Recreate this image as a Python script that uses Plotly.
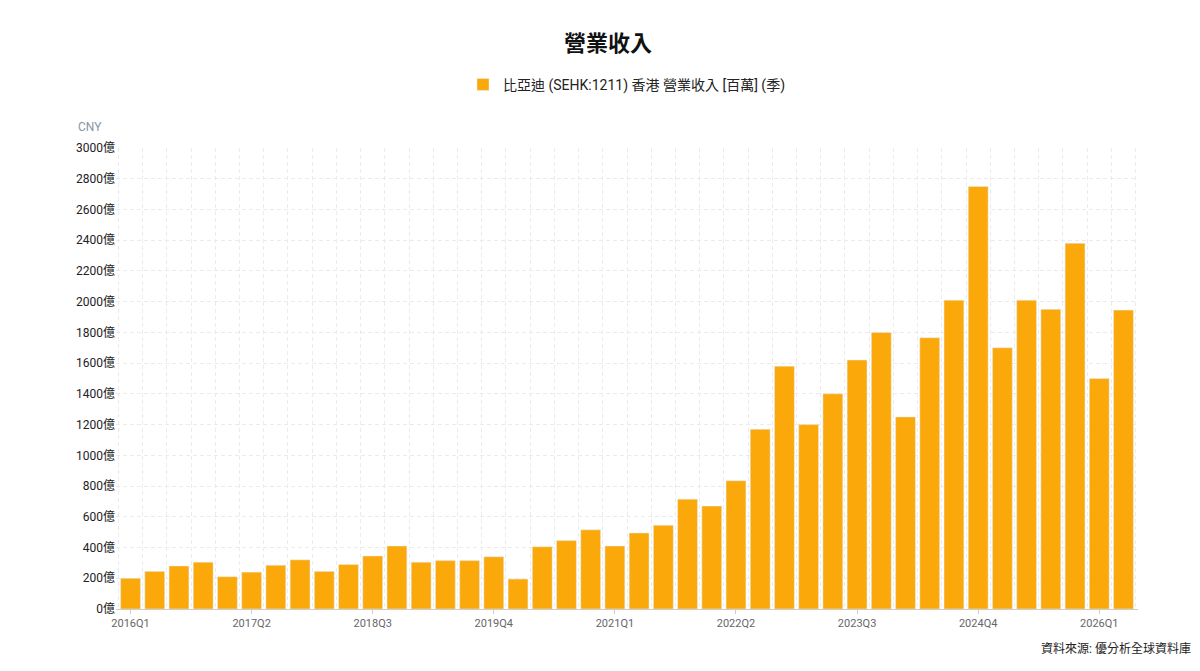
import plotly.graph_objects as go

# quarters 2016Q1 .. 2026Q2
quarters = [f"{y}Q{q}" for y in range(2016, 2027) for q in range(1, 5)][:42]
# revenue in 億 CNY
revenue = [200, 245, 280, 305, 210, 240, 285, 320, 245, 290, 345, 410,
           305, 315, 315, 340, 195, 405, 445, 515, 410, 495, 545, 715,
           670, 835, 1170, 1580, 1200, 1400, 1620, 1800, 1250, 1765, 2010, 2750,
           1700, 2010, 1950, 2380, 1500, 1945]
y_ticks = list(range(0, 3001, 200))

x_idx = list(range(len(quarters)))
label_idx = x_idx[::5]

fig = go.Figure()
fig.add_trace(go.Bar(x=x_idx, y=revenue, marker_color='#FBA90A', width=0.82,
                     name='比亞迪 (SEHK:1211) 香港 營業收入 [百萬] (季)',
                     hovertext=quarters))

fig.update_layout(
    width=1200, height=671,
    title=dict(text='<b>營業收入</b>', x=0.5, xanchor='center', y=0.948, yanchor='middle',
               font=dict(size=22, color='#111')),
    font=dict(family='Roboto, "Noto Sans CJK TC", sans-serif', color='#333'),
    plot_bgcolor='white', paper_bgcolor='white',
    showlegend=True,
    legend=dict(orientation='h', x=0.5, xanchor='center', y=1.137, yanchor='middle',
                font=dict(size=14, color='#222')),
    margin=dict(l=108, r=70, t=140, b=70, autoexpand=False),
    bargap=0.18,
)
fig.update_xaxes(range=[-0.6, len(quarters) - 0.4], tickvals=label_idx,
                 ticktext=[quarters[i] for i in label_idx],
                 tickfont=dict(size=11, color='#666'), showgrid=False,
                 showline=True, linecolor='#ccc', ticks='outside', ticklen=4, tickcolor='#ccc',
                 minor=dict(tick0=0.5, dtick=1, showgrid=True, gridcolor='#ebebeb', griddash='4px,3px'))
fig.update_yaxes(range=[0, 3000], tickvals=y_ticks, ticktext=[f"{v}億" for v in y_ticks],
                 tickfont=dict(size=12, color='#222'), gridcolor='#ebebeb', griddash='4px,3px',
                 zeroline=False)
fig.add_annotation(text='CNY', xref='paper', yref='paper', x=-0.039, y=1.065, showarrow=False,
                   xanchor='left', font=dict(size=12, color='#8a94a6'))
fig.add_annotation(text='資料來源: 優分析全球資料庫', xref='paper', yref='paper', x=1.054, y=-0.106,
                   showarrow=False, xanchor='right', font=dict(size=12, color='#222'))

fig.write_html("out.html")
